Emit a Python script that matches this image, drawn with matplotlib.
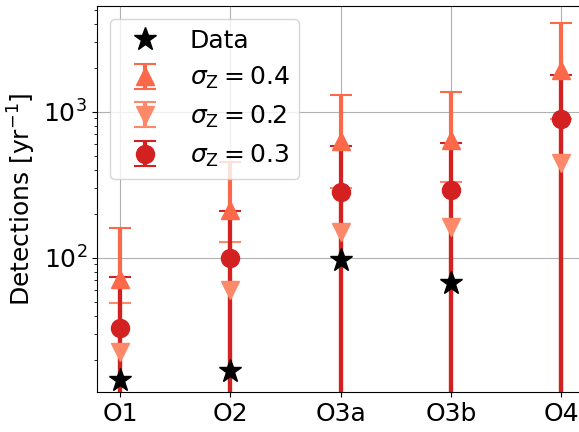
import numpy as np
import matplotlib
matplotlib.use("Agg")
import matplotlib.pyplot as plt

runs = ["O1", "O2", "O3a", "O3b", "O4"]

# observed detections per year (none yet for O4)
data_runs = ["O1", "O2", "O3a", "O3b"]
data = [14.6, 16.6, 97, 67]

# model predictions and upper end of the error bar
s04 = [71, 213, 632, 640, 1940]
s04_hi = [160, 455, 1306, 1370, 4075]
s02 = [22.7, 60, 151, 163, 447]
s02_hi = [49, 127, 300, 332, 895]
s03 = [33, 100, 283, 292, 895]
s03_hi = [74, 210, 585, 613, 1790]

plt.rcParams["font.size"] = 18

fig = plt.figure(figsize=(5.79, 4.32), dpi=100)
# right spine falls just outside the saved image, like the reference
ax = fig.add_axes([97 / 579, 40 / 432, 492 / 579, 386 / 432])

x = np.arange(len(runs))
xd = np.arange(len(data_runs))

ax.plot(xd, data, "*", color="k", ms=17, label="Data", zorder=5)

series = [
    (s04, s04_hi, "^", plt.cm.Reds(0.5), r"$\sigma_{\rm Z} = 0.4$"),
    (s02, s02_hi, "v", plt.cm.Reds(0.4), r"$\sigma_{\rm Z} = 0.2$"),
    (s03, s03_hi, "o", plt.cm.Reds(0.72), r"$\sigma_{\rm Z} = 0.3$"),
]
for vals, hi, mk, col, lab in series:
    vals = np.array(vals)
    err = np.array(hi) - vals
    ax.errorbar(x, vals, yerr=err, fmt=mk, color=col, ms=13,
                elinewidth=3, capsize=8, capthick=1.5, label=lab)

ax.set_yscale("log")
ax.set_ylim(12, 5300)
ax.set_xlim(-0.21, 4.25)
ax.set_xticks(x)
ax.set_xticklabels(runs)
ax.set_ylabel(r"Detections [yr$^{-1}$]")
ax.grid(True)
ax.set_axisbelow(True)
ax.legend(loc="upper left")

fig.savefig("out.png", dpi=100)
